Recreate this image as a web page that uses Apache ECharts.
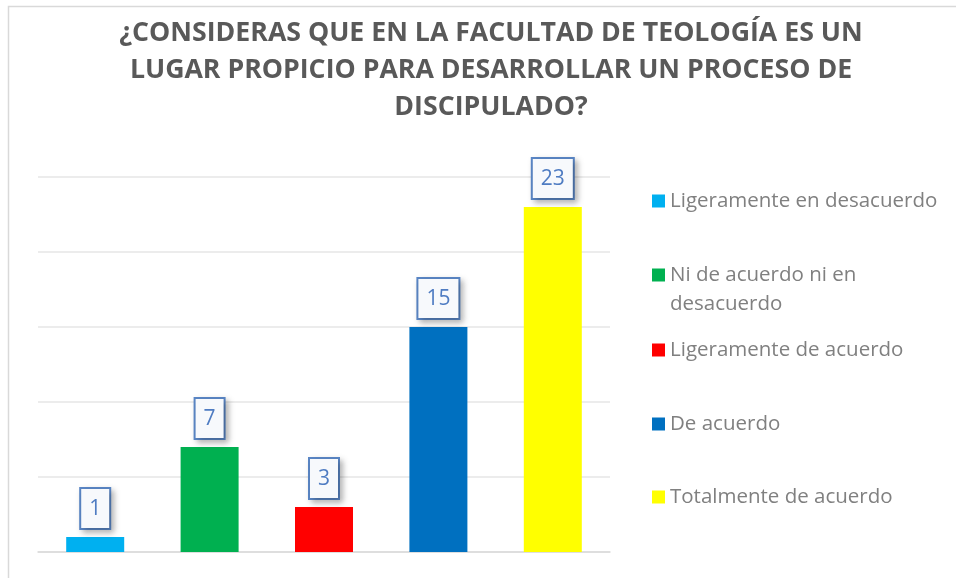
<!DOCTYPE html>
<html>
<head>
<meta charset="utf-8">
<script src="https://cdn.jsdelivr.net/npm/echarts@6/dist/echarts.min.js"></script>
<style>
  html, body { margin: 0; padding: 0; background: #fff; }
  #chart { width: 956px; height: 578px; }
</style>
</head>
<body>
<div id="chart"></div>
<script>
// datos de la encuesta
var categorias = ['Ligeramente en desacuerdo', 'Ni de acuerdo ni en desacuerdo', 'Ligeramente de acuerdo', 'De acuerdo', 'Totalmente de acuerdo'];
var valores = [1, 7, 3, 15, 23];
var colores = ['#00b0f0', '#00b050', '#ff0000', '#0070c0', '#ffff00'];
var ejeY = [0, 5, 10, 15, 20, 25];
var legendTop = [182, 256, 331, 405, 478];

var chart = echarts.init(document.getElementById('chart'));

var series = [];
var legends = [];
for (var i = 0; i < categorias.length; i++) {
    var data = [];
    for (var j = 0; j < categorias.length; j++) data.push(j == i ? valores[i] : null);
    series.push({
        name: categorias[i],
        type: 'bar',
        stack: 'total',
        barWidth: 58,
        itemStyle: { color: colores[i] },
        label: {
            show: true,
            position: 'top',
            distance: 9,
            color: '#4f7cc2',
            fontFamily: 'Open Sans',
            fontSize: 21,
            backgroundColor: '#f7f9fc',
            borderColor: '#5a86c5',
            borderWidth: 2,
            padding: [10, 8, 8, 8],
            shadowColor: 'rgba(0,0,0,0.25)',
            shadowBlur: 6,
            shadowOffsetX: 3,
            shadowOffsetY: 3
        },
        data: data
    });
    legends.push({
        left: 647,
        top: legendTop[i],
        orient: 'vertical',
        itemWidth: 13,
        itemHeight: 13,
        icon: 'rect',
        selectedMode: false,
        data: [categorias[i]],
        formatter: function (n) {
            // la segunda linea va aparte
            return n == 'Ni de acuerdo ni en desacuerdo' ? 'Ni de acuerdo ni en' : n;
        },
        textStyle: {
            color: '#808080',
            fontFamily: 'Open Sans',
            fontSize: 20.5,
            lineHeight: 28
        }
    });
}

chart.setOption({
    animation: false,
    title: {
        text: '¿CONSIDERAS QUE EN LA FACULTAD DE TEOLOGÍA ES UN\nLUGAR PROPICIO PARA DESARROLLAR UN PROCESO DE\nDISCIPULADO?',
        left: 486,
        top: 10,
        textAlign: 'center',
        textStyle: {
            color: '#595959',
            fontFamily: 'Open Sans',
            fontWeight: 'bold',
            fontSize: 26.7,
            lineHeight: 37
        }
    },
    graphic: [{
        type: 'rect',
        shape: { x: 8.5, y: 6.5, width: 970, height: 600 },
        style: { fill: 'none', stroke: '#d9d9d9', lineWidth: 1.5 },
        silent: true
    }, {
        type: 'text',
        left: 670,
        top: 290,
        style: {
            text: 'desacuerdo',
            fill: '#808080',
            font: '20.5px "Open Sans"',
            lineHeight: 28
        },
        silent: true
    }],
    legend: legends,
    grid: { left: 38, right: 346, top: 177, bottom: 26 },
    xAxis: {
        type: 'category',
        data: categorias,
        axisLine: { lineStyle: { color: '#d9d9d9', width: 1.5 } },
        axisTick: { show: false },
        axisLabel: { show: false }
    },
    yAxis: {
        type: 'value',
        min: ejeY[0],
        max: ejeY[ejeY.length - 1],
        interval: 5,
        axisLine: { show: false },
        axisTick: { show: false },
        axisLabel: { show: false },
        splitLine: { lineStyle: { color: '#e6e6e6', width: 1.5 } }
    },
    series: series
});
</script>
</body>
</html>
